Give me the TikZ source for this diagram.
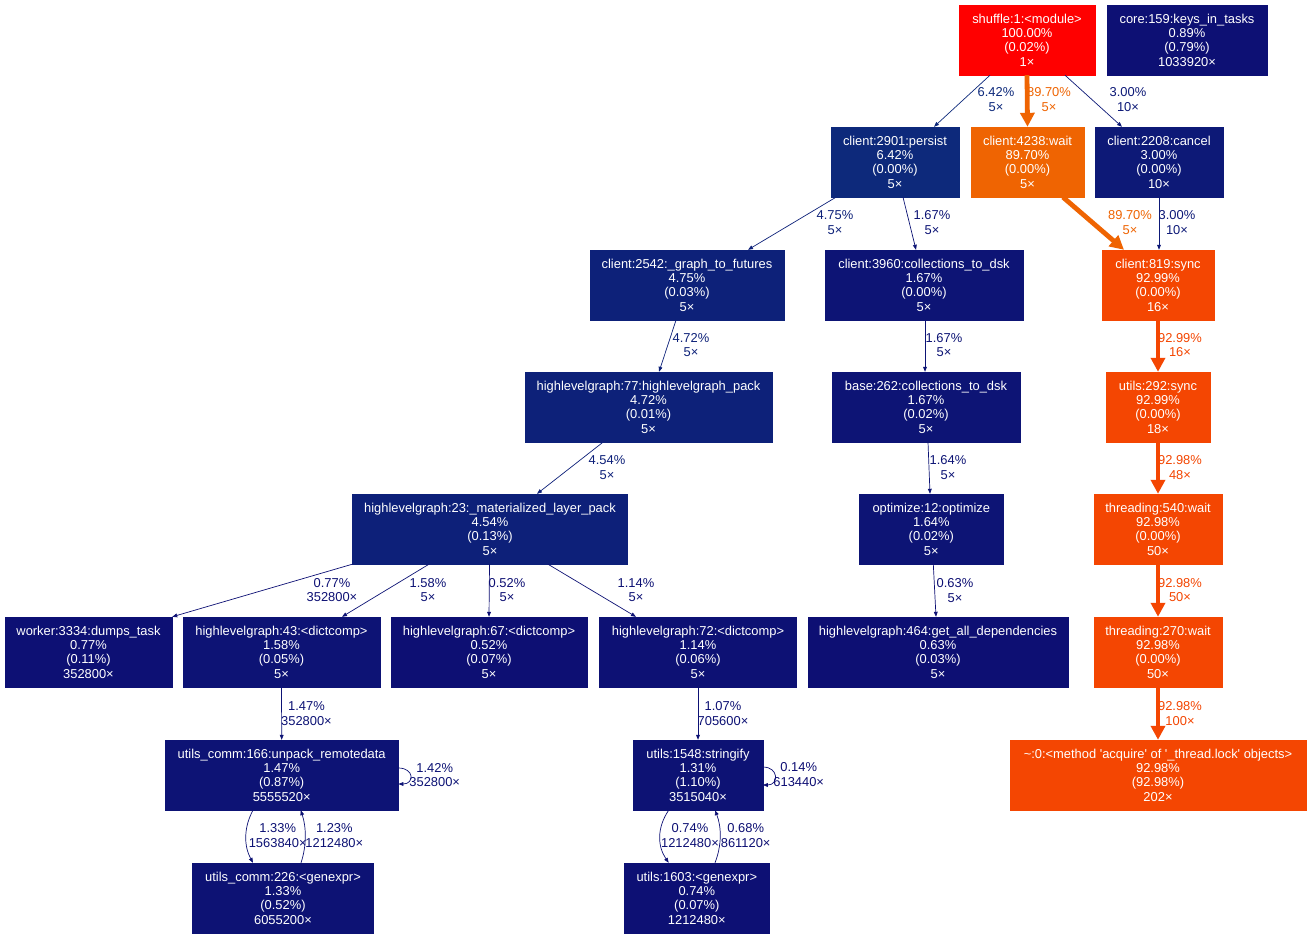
\documentclass[tikz,border=0pt]{standalone}
\usepackage{fontspec}
\setmainfont{Liberation Sans}
\usetikzlibrary{arrows.meta}
\newcommand{\fs}{\fontsize{12.9}{14.4}\selectfont}
\definecolor{cR}{HTML}{FF0000}
\definecolor{cOa}{HTML}{EF6402}
\definecolor{cOb}{HTML}{F44602}
\definecolor{cA}{HTML}{0D297B}
\definecolor{cB}{HTML}{0D2179}
\definecolor{cC}{HTML}{0D2079}
\definecolor{cD}{HTML}{0D1977}
\definecolor{cE}{HTML}{0D1475}
\definecolor{cF}{HTML}{0D1375}
\definecolor{cG}{HTML}{0D1274}
\definecolor{cH}{HTML}{0D1174}
\definecolor{cI}{HTML}{0D1074}
\definecolor{cJ}{HTML}{0D0F73}
\definecolor{cK}{HTML}{0D0D73}
\begin{document}
\begin{tikzpicture}[x=1pt,y=-1pt,
 fn/.style={rectangle, inner sep=0pt, minimum height=70pt, text=white, align=center, font=\fs, fill=#1, draw=#1},
 el/.style={inner sep=0pt, align=center, font=\fs, text=#1},
 thinedge/.style={draw=#1, line width=0.7pt, -{Triangle[length=5pt,width=3.8pt]}},
 thickedge/.style={draw=#1, line width=4.8pt, -{Triangle[length=14pt,width=14pt]}},
]
\useasboundingbox[fill=white] (0,0) rectangle (1311,939);
% nodes
\node[fn=cR, minimum width=136pt] (shuffle) at (1027,40) {shuffle:1:<module>\\100.00\%\\(0.02\%)\\1×};
\node[fn=cI, minimum width=160pt] (core) at (1187,40) {core:159:keys\_in\_tasks\\0.89\%\\(0.79\%)\\1033920×};
\node[fn=cA, minimum width=128pt] (persist) at (895,162) {client:2901:persist\\6.42\%\\(0.00\%)\\5×};
\node[fn=cOa, minimum width=113pt] (wait) at (1027.5,162) {client:4238:wait\\89.70\%\\(0.00\%)\\5×};
\node[fn=cD, minimum width=128pt] (cancel) at (1159,162) {client:2208:cancel\\3.00\%\\(0.00\%)\\10×};
\node[fn=cB, minimum width=194pt] (gtf) at (687,285) {client:2542:\_graph\_to\_futures\\4.75\%\\(0.03\%)\\5×};
\node[fn=cE, minimum width=198pt] (ctd) at (924,285) {client:3960:collections\_to\_dsk\\1.67\%\\(0.00\%)\\5×};
\node[fn=cOb, minimum width=112pt] (csync) at (1158,285) {client:819:sync\\92.99\%\\(0.00\%)\\16×};
\node[fn=cB, minimum width=247pt] (hlgpack) at (648.5,407) {highlevelgraph:77:highlevelgraph\_pack\\4.72\%\\(0.01\%)\\5×};
\node[fn=cE, minimum width=188pt] (btd) at (926,407) {base:262:collections\_to\_dsk\\1.67\%\\(0.02\%)\\5×};
\node[fn=cOb, minimum width=104pt] (usync) at (1158,407) {utils:292:sync\\92.99\%\\(0.00\%)\\18×};
\node[fn=cC, minimum width=275pt] (mlp) at (490,529) {highlevelgraph:23:\_materialized\_layer\_pack\\4.54\%\\(0.13\%)\\5×};
\node[fn=cE, minimum width=144pt] (opt) at (931.3,529) {optimize:12:optimize\\1.64\%\\(0.02\%)\\5×};
\node[fn=cOb, minimum width=128pt] (tw540) at (1158,529) {threading:540:wait\\92.98\%\\(0.00\%)\\50×};
\node[fn=cI, minimum width=167pt] (worker) at (88.5,652) {worker:3334:dumps\_task\\0.77\%\\(0.11\%)\\352800×};
\node[fn=cF, minimum width=197pt] (dc43) at (281.5,652) {highlevelgraph:43:<dictcomp>\\1.58\%\\(0.05\%)\\5×};
\node[fn=cJ, minimum width=196pt] (dc67) at (489,652) {highlevelgraph:67:<dictcomp>\\0.52\%\\(0.07\%)\\5×};
\node[fn=cH, minimum width=197pt] (dc72) at (698,652) {highlevelgraph:72:<dictcomp>\\1.14\%\\(0.06\%)\\5×};
\node[fn=cJ, minimum width=260pt] (gad) at (938,652) {highlevelgraph:464:get\_all\_dependencies\\0.63\%\\(0.03\%)\\5×};
\node[fn=cOb, minimum width=128pt] (tw270) at (1158,652) {threading:270:wait\\92.98\%\\(0.00\%)\\50×};
\node[fn=cF, minimum width=233pt] (unpack) at (281.7,775) {utils\_comm:166:unpack\_remotedata\\1.47\%\\(0.87\%)\\5555520×};
\node[fn=cG, minimum width=129.4pt] (strf) at (698,775) {utils:1548:stringify\\1.31\%\\(1.10\%)\\3515040×};
\node[fn=cOb, minimum width=296pt] (acq) at (1158,775) {\textasciitilde:0:<method \textquotesingle acquire\textquotesingle\ of \textquotesingle\_thread.lock\textquotesingle\ objects>\\92.98\%\\(92.98\%)\\202×};
\node[fn=cG, minimum width=180.7pt] (gen226) at (283,898) {utils\_comm:226:<genexpr>\\1.33\%\\(0.52\%)\\6055200×};
\node[fn=cI, minimum width=145pt] (gen1603) at (696.8,898) {utils:1603:<genexpr>\\0.74\%\\(0.07\%)\\1212480×};
% edges
\draw[thinedge=cA] ([xshift=-37pt]shuffle.south) -- ([xshift=39pt]persist.north);
\draw[thickedge=cOa] (shuffle.south) -- (wait.north);
\draw[thinedge=cD] ([xshift=38pt]shuffle.south) -- ([xshift=-37pt]cancel.north);
\draw[thinedge=cB] ([xshift=-59pt]persist.south) -- ([xshift=61pt]gtf.north);
\draw[thinedge=cE] ([xshift=8pt]persist.south) -- ([xshift=-8pt]ctd.north);
\draw[thickedge=cOa] ([xshift=35.5pt]wait.south) -- ([xshift=-34pt]csync.north);
\draw[thinedge=cD] (cancel.south) -- ([xshift=1pt]csync.north);
\draw[thinedge=cB] ([xshift=-11pt]gtf.south) -- ([xshift=10.5pt]hlgpack.north);
\draw[thinedge=cE] ([xshift=1pt]ctd.south) -- ([xshift=-1pt]btd.north);
\draw[thickedge=cOb] (csync.south) -- (usync.north);
\draw[thinedge=cC] ([xshift=-45.5pt]hlgpack.south) -- ([xshift=47pt]mlp.north);
\draw[thinedge=cE] ([xshift=2pt]btd.south) -- ([xshift=-1.3pt]opt.north);
\draw[thickedge=cOb] (usync.south) -- (tw540.north);
\draw[thinedge=cI] (mlp.south west) -- (worker.north east);
\draw[thinedge=cF] ([xshift=-61pt]mlp.south) -- ([xshift=60.5pt]dc43.north);
\draw[thinedge=cJ] ([xshift=-0.5pt]mlp.south) -- (dc67.north);
\draw[thinedge=cH] ([xshift=58pt]mlp.south) -- ([xshift=-62pt]dc72.north);
\draw[thinedge=cJ] ([xshift=2pt]opt.south) -- ([xshift=-2pt]gad.north);
\draw[thickedge=cOb] (tw540.south) -- (tw270.north);
\draw[thinedge=cF] (dc43.south) -- (unpack.north);
\draw[thinedge=cH] (dc72.south) -- (strf.north);
\draw[thickedge=cOb] (tw270.south) -- (acq.north);
\draw[thinedge=cF] ([yshift=7pt]unpack.east) .. controls +(16,0) and +(16,0) .. ([yshift=-9pt]unpack.east);
\draw[thinedge=cG] ([xshift=-28.7pt]unpack.south) .. controls +(-9.3,17) and +(-9.3,-17) .. ([xshift=-30pt]gen226.north);
\draw[thinedge=cG] ([xshift=18pt]gen226.north) .. controls +(5.7,-17) and +(5.7,17) .. ([xshift=19pt]unpack.south);
\draw[thinedge=cK] ([yshift=8pt]strf.east) .. controls +(16,0) and +(16,0) .. ([yshift=-10pt]strf.east);
\draw[thinedge=cI] ([xshift=-29.3pt]strf.south) .. controls +(-11.6,17) and +(-11.6,-17) .. ([xshift=-28.1pt]gen1603.north);
\draw[thinedge=cJ] ([xshift=18.2pt]gen1603.north) .. controls +(6.7,-17) and +(6.7,17) .. ([xshift=17pt]strf.south);
% edge labels
\node[el=cA] (l1) at (996,99.5) {6.42\%\\5×};
\node[el=cOa] (l2) at (1049,99.5) {89.70\%\\5×};
\node[el=cD] (l3) at (1128,99.5) {3.00\%\\10×};
\node[el=cB] (l4) at (835,222.5) {4.75\%\\5×};
\node[el=cE] (l5) at (932,222.5) {1.67\%\\5×};
\node[el=cOa] (l6) at (1130,222.5) {89.70\%\\5×};
\node[el=cD] (l7) at (1177,222.5) {3.00\%\\10×};
\node[el=cB] (l8) at (691,345) {4.72\%\\5×};
\node[el=cE] (l9) at (944,345) {1.67\%\\5×};
\node[el=cOb] (l10) at (1180,345) {92.99\%\\16×};
\node[el=cC] (l11) at (607,467.5) {4.54\%\\5×};
\node[el=cE] (l12) at (948,467.5) {1.64\%\\5×};
\node[el=cOb] (l13) at (1180,467.5) {92.98\%\\48×};
\node[el=cI] (l14) at (332,590) {0.77\%\\352800×};
\node[el=cF] (l15) at (428,590) {1.58\%\\5×};
\node[el=cJ] (l16) at (507,590) {0.52\%\\5×};
\node[el=cH] (l17) at (636,590) {1.14\%\\5×};
\node[el=cJ] (l18) at (955,590.5) {0.63\%\\5×};
\node[el=cOb] (l19) at (1180,590) {92.98\%\\50×};
\node[el=cF] (l20) at (306.5,713.5) {1.47\%\\352800×};
\node[el=cH] (l21) at (723,713.5) {1.07\%\\705600×};
\node[el=cOb] (l22) at (1180,713.5) {92.98\%\\100×};
\node[el=cF] (l23) at (434.7,775) {1.42\%\\352800×};
\node[el=cK] (l24) at (798.7,774.5) {0.14\%\\613440×};
\node[el=cG] (l25) at (277.7,835.5) {1.33\%\\1563840×};
\node[el=cG] (l26) at (334.3,835.5) {1.23\%\\1212480×};
\node[el=cI] (l27) at (690,835.5) {0.74\%\\1212480×};
\node[el=cJ] (l28) at (745.7,835.5) {0.68\%\\861120×};
\end{tikzpicture}
\end{document}
